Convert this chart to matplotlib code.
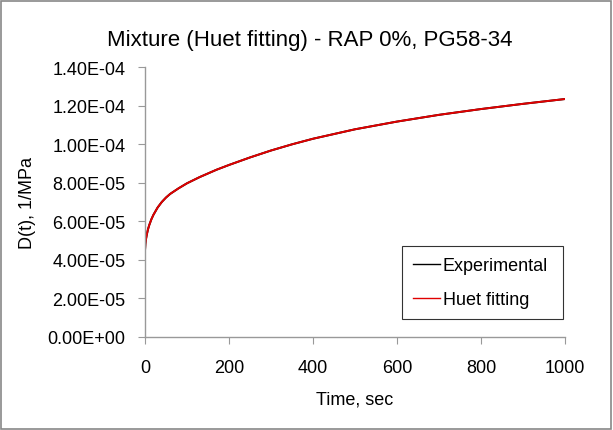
import matplotlib
matplotlib.use('Agg')
import matplotlib.pyplot as plt
from matplotlib.patches import Rectangle
from matplotlib.ticker import FuncFormatter

# time (sec) and creep compliance (1/MPa)
time_sec = [0, 1, 2, 4, 7, 10, 15, 20, 30, 40, 50, 60, 80, 100, 130, 170, 200,
            250, 300, 350, 400, 500, 600, 700, 800, 900, 1000]
d_exp = [4.47e-5, 4.83e-5, 5.02e-5, 5.27e-5, 5.57e-5, 5.79e-5, 6.09e-5, 6.33e-5,
         6.71e-5, 7.00e-5, 7.23e-5, 7.42e-5, 7.71e-5, 7.97e-5, 8.29e-5, 8.67e-5,
         8.92e-5, 9.31e-5, 9.67e-5, 9.99e-5, 1.028e-4, 1.077e-4, 1.117e-4,
         1.152e-4, 1.182e-4, 1.209e-4, 1.234e-4]
d_fit = list(d_exp)

plt.rcParams['font.family'] = ['Liberation Sans', 'DejaVu Sans']

fig = plt.figure(figsize=(6.13, 4.31), dpi=100)
fig.patches.append(Rectangle((0.002, 0.002), 0.994, 0.994, transform=fig.transFigure,
                             fill=False, edgecolor='#888888', linewidth=1.2))

ax = fig.add_axes([0.2365, 0.2158, 0.6852, 0.6264])
ax.plot(time_sec, d_exp, color='black', linewidth=1.4, label='Experimental')
ax.plot(time_sec, d_fit, color='#e00000', linewidth=1.4, label='Huet fitting')

ax.set_xlim(0, 1000)
ax.set_ylim(0, 1.4e-4)
ax.set_xticks([0, 200, 400, 600, 800, 1000])
ax.set_yticks([i * 2e-5 for i in range(8)])
ax.yaxis.set_major_formatter(FuncFormatter(lambda v, p: f"{v:.2E}"))

for s in ['top', 'right']:
    ax.spines[s].set_visible(False)
for s in ['left', 'bottom']:
    ax.spines[s].set_color('#999999')
    ax.spines[s].set_linewidth(1.0)
ax.tick_params(direction='out', length=5, color='#999999', labelsize=13)
ax.tick_params(axis='y', pad=9)
ax.tick_params(axis='x', pad=11)

fig.text(0.506, 0.907, 'Mixture (Huet fitting) - RAP 0%, PG58-34', fontsize=16,
         ha='center', va='center')
ax.set_xlabel('Time, sec', fontsize=13, labelpad=10)
ax.set_ylabel('D(t), 1/MPa', fontsize=13, labelpad=8)

# legend box placed where the reference has it (402..563 x 247..318 px)
leg = ax.legend(loc='upper left',
                bbox_to_anchor=(402 / 613, 1 - 318 / 431, 161 / 613, 71 / 431),
                bbox_transform=fig.transFigure, mode='expand', borderaxespad=0,
                fontsize=13, frameon=True, fancybox=False, edgecolor='black',
                handlelength=1.5, borderpad=0.6, labelspacing=0.95,
                handletextpad=0.15)
leg.get_frame().set_linewidth(0.8)
for line in leg.get_lines():
    line.set_linewidth(1.0)

fig.savefig('out.png', dpi=100)
